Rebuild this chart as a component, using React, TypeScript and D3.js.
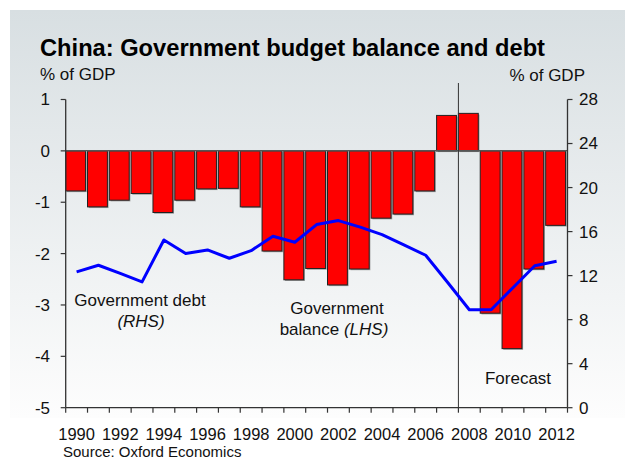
import React from "react";
import * as d3 from "d3";

const years: number[] = d3.range(1990, 2013);
const balance: number[] = [
  -0.78, -1.09, -0.96, -0.83, -1.2, -0.96, -0.74, -0.73, -1.09, -1.95, -2.51, -2.29,
  -2.61, -2.3, -1.31, -1.23, -0.78, 0.69, 0.73, -3.16, -3.85, -2.3, -1.45,
];
const debt: number[] = [
  12.34, 12.94, 12.2, 11.43, 15.24, 14.0, 14.33, 13.58, 14.27, 15.58, 15.03, 16.64,
  17.0, 16.4, 15.73, 14.8, 13.85, 11.4, 8.9, 8.9, 10.9, 12.9, 13.3,
];
const leftTicks: number[] = [1, 0, -1, -2, -3, -4, -5];
const rightTicks: number[] = [28, 24, 20, 16, 12, 8, 4, 0];
const xLabels: number[] = years.filter((y) => y % 2 === 0);
const forecastStart = 2008;

const FONT = "'Liberation Sans', Arial, Helvetica, sans-serif";

export default function App() {
  const W = 627;
  const H = 460;
  const x = d3.scaleBand<number>().domain(years).range([65.7, 567.5]).padding(0);
  const yL = d3.scaleLinear().domain([-5, 1]).range([407.7, 99.5]);
  const yR = d3.scaleLinear().domain([0, 28]).range([407.7, 99.5]);
  const bw = x.bandwidth();
  const barW = bw * 0.91;
  const line = d3
    .line<number>()
    .x((_, i) => (x(years[i]) as number) + bw / 2)
    .y((d) => yR(d));
  const axisColor = "#333";
  const xL = x.range()[0];
  const xR = x.range()[1];
  const fx = x(forecastStart) as number;

  return (
    <svg
      width={W}
      height={H}
      style={{ position: "absolute", left: 0, top: 0 }}
      fontFamily={FONT}
    >
      <defs>
        <linearGradient id="bg" x1="0" y1="0" x2="0" y2="1">
          <stop offset="0%" stopColor="#d8dfe2" />
          <stop offset="100%" stopColor="#fdfdfd" />
        </linearGradient>
      </defs>
      <rect x={0} y={0} width={W} height={H} fill="#fff" />
      <rect x={10} y={10} width={615} height={408} fill="url(#bg)" />

      <text x={40} y={56} fontSize={23} fontWeight="bold" fill="#000" textLength={505} lengthAdjust="spacingAndGlyphs">
        China: Government budget balance and debt
      </text>
      <text x={40} y={80} fontSize={17} fill="#111">% of GDP</text>
      <text x={585} y={80.5} fontSize={17} fill="#111" textAnchor="end">% of GDP</text>

      {/* bars */}
      {balance.map((v, i) => {
        const bx = x(years[i]) as number;
        const y0 = yL(0);
        const y1 = yL(v);
        const top = Math.min(y0, y1);
        const h = Math.abs(y1 - y0);
        return (
          <g key={years[i]}>
            <rect x={bx + 1.2} y={top + 1.2} width={barW} height={h} fill="#777" opacity={0.7} />
            <rect x={bx} y={top} width={barW} height={h} fill="#ff0000" stroke="#222" strokeWidth={1} />
          </g>
        );
      })}

      {/* zero line */}
      <line x1={xL} x2={xR} y1={yL(0)} y2={yL(0)} stroke="#555" strokeWidth={1.5} />

      {/* forecast divider */}
      <line x1={fx} x2={fx} y1={83} y2={yL(-5)} stroke="#333" strokeWidth={1} />

      {/* debt line */}
      <path d={line(debt) || ""} fill="none" stroke="#0000ff" strokeWidth={3} strokeLinejoin="round" />

      {/* left axis */}
      <line x1={xL} x2={xL} y1={yL(1)} y2={yL(-5)} stroke={axisColor} strokeWidth={1.3} />
      {leftTicks.map((t) => (
        <g key={"l" + t}>
          <line x1={xL - 5} x2={xL} y1={yL(t)} y2={yL(t)} stroke={axisColor} strokeWidth={1.2} />
          <text x={50} y={yL(t)} dy="0.35em" fontSize={17} textAnchor="end" fill="#111">
            {t}
          </text>
        </g>
      ))}

      {/* right axis */}
      <line x1={xR} x2={xR} y1={yR(28)} y2={yR(0)} stroke={axisColor} strokeWidth={1.3} />
      {rightTicks.map((t) => (
        <g key={"r" + t}>
          <line x1={xR} x2={xR + 5} y1={yR(t)} y2={yR(t)} stroke={axisColor} strokeWidth={1.2} />
          <text x={579} y={yR(t)} dy="0.35em" fontSize={17} fill="#111">
            {t}
          </text>
        </g>
      ))}

      {/* x axis */}
      <line x1={xL} x2={xR} y1={yL(-5)} y2={yL(-5)} stroke={axisColor} strokeWidth={1.3} />
      {years.concat([2013]).map((yr) => {
        const tx = yr === 2013 ? xR : (x(yr) as number);
        return <line key={"t" + yr} x1={tx} x2={tx} y1={yL(-5)} y2={yL(-5) + 5} stroke={axisColor} strokeWidth={1.2} />;
      })}
      {xLabels.map((yr) => (
        <text key={"x" + yr} x={(x(yr) as number) + bw / 2} y={439.5} fontSize={16.5} textAnchor="middle" fill="#111">
          {yr}
        </text>
      ))}

      {/* annotations */}
      <text x={140} y={306} fontSize={17} textAnchor="middle" fill="#111">Government debt</text>
      <text x={141} y={327} fontSize={17} textAnchor="middle" fill="#111" fontStyle="italic">(RHS)</text>
      <text x={337} y={314} fontSize={17} textAnchor="middle" fill="#111">Government</text>
      <text x={334} y={335} fontSize={17} textAnchor="middle" fill="#111">
        balance <tspan fontStyle="italic">(LHS)</tspan>
      </text>
      <text x={518} y={384} fontSize={17} textAnchor="middle" fill="#111">Forecast</text>

      <text x={63} y={457} fontSize={15} fill="#111">Source: Oxford Economics</text>
    </svg>
  );
}
